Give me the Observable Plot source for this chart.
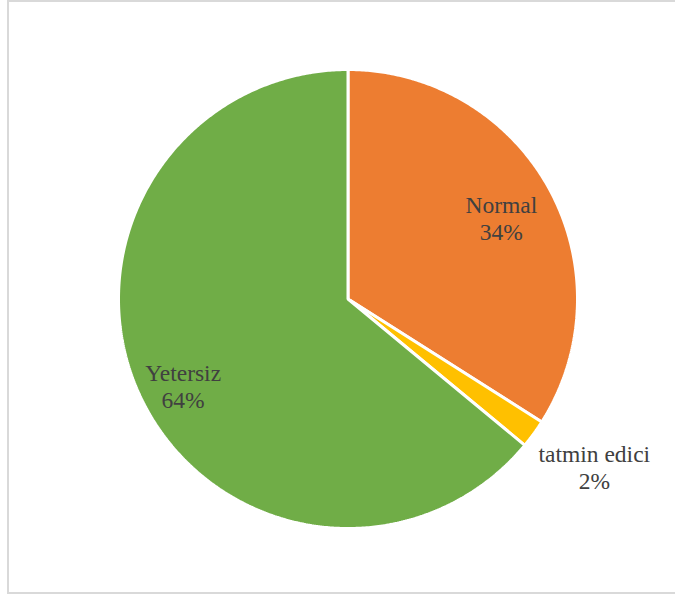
<!DOCTYPE html>
<html>
<head>
<meta charset="utf-8">
<script src="https://cdn.jsdelivr.net/npm/d3@7"></script>
<script src="https://cdn.jsdelivr.net/npm/@observablehq/plot@0.6"></script>
<style>
  html, body { margin: 0; padding: 0; background: #fff; }
  #wrap { position: relative; width: 675px; height: 597px; overflow: hidden; }
  #frame { position: absolute; left: 7px; top: 0px; width: 700px; height: 594px;
           border: 2px solid #d9d9d9; box-sizing: border-box; pointer-events: none; }
  #wrap svg { position: absolute; left: 0; top: 0; }
</style>
</head>
<body>
<div id="wrap"><div id="frame"></div></div>
<script>
// Data
const categories = ["Normal", "tatmin edici", "Yetersiz"];
const shares = [34, 2, 64];
const colors = ["#ED7D31", "#FFC000", "#70AD47"];

// Layout (pixels)
const cx = 347.5, cy = 298.5, R = 229.5;
// label placement: radius (fraction of R) and angle nudge (degrees)
const labelPlace = {
  "Normal": {r: 0.757, da: 0.8},
  "tatmin edici": {r: 1.30, da: -1.65},
  "Yetersiz": {r: 0.813, da: -2.7}
};

const total = d3.sum(shares);
let acc = 0;
const slices = categories.map((c, i) => {
  const a0 = acc / total * 360;
  acc += shares[i];
  const a1 = acc / total * 360;
  return {name: c, value: shares[i], color: colors[i], a0, a1};
});

function pt(angleDeg, r) {
  const a = angleDeg * Math.PI / 180;
  return {x: r * Math.sin(a), y: r * Math.cos(a)};
}

const marks = [];
for (const s of slices) {
  const pts = [{x: 0, y: 0}];
  const n = Math.max(2, Math.ceil((s.a1 - s.a0) / 0.5));
  for (let k = 0; k <= n; k++) pts.push(pt(s.a0 + (s.a1 - s.a0) * k / n, 1));
  marks.push(Plot.line(pts, {
    x: "x", y: "y", fill: s.color, stroke: "white", strokeWidth: 3,
    strokeLinejoin: "miter", curve: "linear-closed"
  }));
}

const labels = slices.map(s => {
  const p = labelPlace[s.name];
  const q = pt((s.a0 + s.a1) / 2 + p.da, p.r);
  return {x: q.x, y: q.y, text: `${s.name}\n${Math.round(s.value / total * 100)}%`};
});

marks.push(Plot.text(labels, {
  x: "x", y: "y", text: "text",
  fontSize: 23.5, fontFamily: "Liberation Serif, Times New Roman, serif",
  fill: "#404040", lineHeight: 1.15
}));

const chart = Plot.plot({
  width: 675, height: 597,
  margin: 0,
  x: {domain: [-1, 1], range: [cx - R, cx + R], axis: null},
  y: {domain: [-1, 1], range: [cy + R, cy - R], axis: null},
  style: {background: "transparent", overflow: "visible"},
  marks
});
document.getElementById("wrap").append(chart);
</script>
</body>
</html>
